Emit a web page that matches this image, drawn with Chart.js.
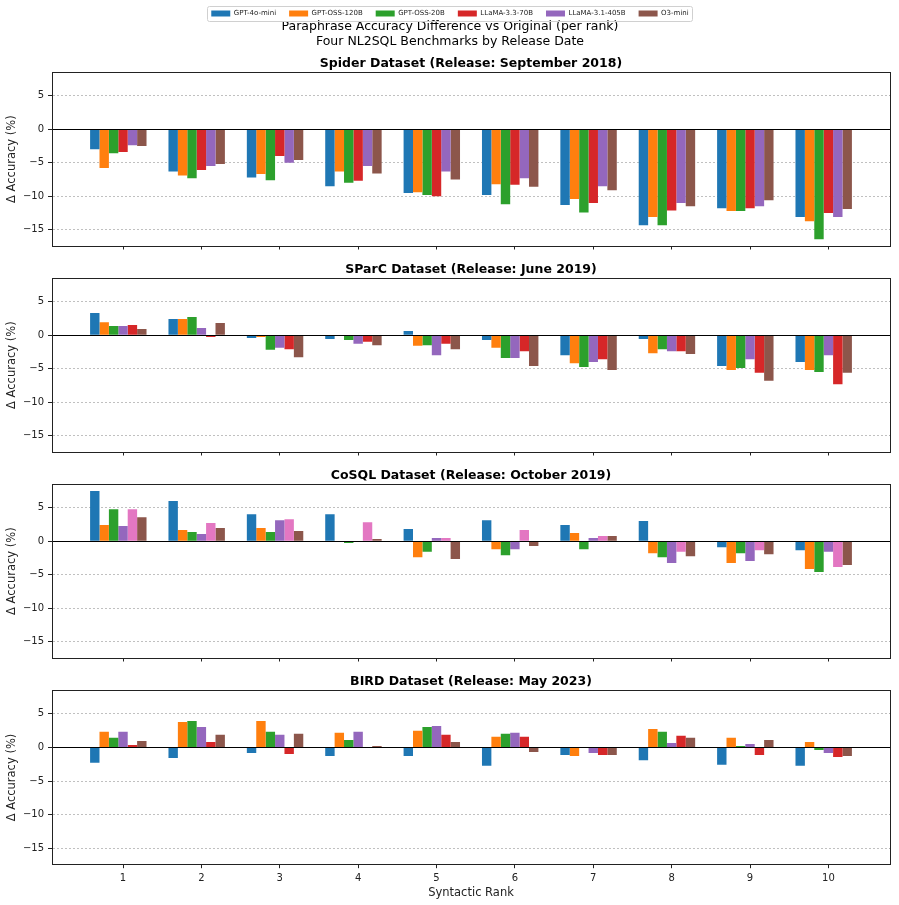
<!DOCTYPE html>
<html>
<head>
<meta charset="utf-8">
<script src="https://cdn.jsdelivr.net/npm/chart.js@4/dist/chart.umd.min.js"></script>
<style>
  html, body { margin: 0; padding: 0; background: #fff; }
  #fig { position: relative; width: 899px; height: 905px; overflow: hidden; background: #fff; }
  #fig canvas { position: absolute; left: 0; }
</style>
</head>
<body>
<div id="fig">
  <canvas id="c0" width="899" height="256" style="top:0px"></canvas>
  <canvas id="c1" width="899" height="216" style="top:246px"></canvas>
  <canvas id="c2" width="899" height="216" style="top:452px"></canvas>
  <canvas id="c3" width="899" height="247" style="top:658px"></canvas>
</div>
<script>
// Paraphrase accuracy delta per syntactic rank, four NL2SQL benchmarks.
// Bar order inside a group differs per panel (as in the original figure).

const ranks = [1, 2, 3, 4, 5, 6, 7, 8, 9, 10];
const yTicks = [-15, -10, -5, 0, 5];
const models = ["GPT-4o-mini", "GPT-OSS-120B", "GPT-OSS-20B", "LLaMA-3.3-70B", "LLaMA-3.1-405B", "O3-mini"];

const BLUE = "#1f77b4", ORANGE = "#ff7f0e", GREEN = "#2ca02c", RED = "#d62728",
      PURPLE = "#9467bd", BROWN = "#8c564b", PINK = "#e377c2";

// Spider: blue, orange, green, red, purple, brown
const spiderColors = [BLUE, ORANGE, GREEN, RED, PURPLE, BROWN];
const spiderNames = models;
const spiderVals = [
  [-3.0, -6.3, -7.2, -8.5, -9.5, -9.8, -11.3, -14.3, -11.8, -13.1],
  [-5.8, -6.9, -6.7, -6.3, -9.4, -8.2, -10.4, -13.1, -12.2, -13.7],
  [-3.6, -7.3, -7.6, -8.0, -9.8, -11.2, -12.4, -14.3, -12.2, -16.4],
  [-3.4, -6.1, -4.0, -7.7, -10.0, -8.3, -11.0, -12.1, -11.8, -12.5],
  [-2.4, -5.5, -5.0, -5.5, -6.3, -7.3, -8.5, -11.0, -11.5, -13.1],
  [-2.5, -5.2, -4.6, -6.6, -7.5, -8.6, -9.1, -11.5, -10.6, -11.9],
];

// SParC: blue, orange, green, purple, red, brown
const sparcColors = [BLUE, ORANGE, GREEN, PURPLE, RED, BROWN];
const sparcNames = ["GPT-4o-mini", "GPT-OSS-120B", "GPT-OSS-20B", "LLaMA-3.1-405B", "LLaMA-3.3-70B", "O3-mini"];
const sparcVals = [
  [3.3, 2.4, -0.45, -0.6, 0.6, -0.75, -3.0, -0.6, -4.6, -4.0],
  [1.9, 2.4, -0.3, -0.05, -1.6, -1.9, -4.2, -2.7, -5.2, -5.2],
  [1.35, 2.7, -2.2, -0.75, -1.5, -3.4, -4.75, -2.1, -4.9, -5.5],
  [1.35, 1.05, -1.9, -1.3, -3.0, -3.4, -4.0, -2.4, -3.6, -3.0],
  [1.5, -0.3, -2.1, -1.0, -1.3, -2.4, -3.6, -2.4, -5.6, -7.3],
  [0.9, 1.8, -3.3, -1.5, -2.1, -4.6, -5.2, -2.8, -6.8, -5.6],
];

// CoSQL: blue, orange, green, purple, pink, brown
const cosqlColors = [BLUE, ORANGE, GREEN, PURPLE, PINK, BROWN];
const cosqlNames = sparcNames;
const cosqlVals = [
  [7.45, 5.95, 4.0, 4.0, 1.8, 3.1, 2.4, 3.0, -0.9, -1.35],
  [2.4, 1.65, 1.95, 0, -2.4, -1.2, 1.2, -1.8, -3.25, -4.15],
  [4.75, 1.35, 1.35, -0.3, -1.6, -2.1, -1.2, -2.4, -1.8, -4.6],
  [2.25, 1.05, 3.1, 0, 0.45, -1.2, 0.45, -3.25, -2.95, -1.6],
  [4.75, 2.7, 3.25, 2.8, 0.45, 1.65, 0.75, -1.6, -1.35, -3.85],
  [3.55, 1.95, 1.5, 0.3, -2.65, -0.75, 0.75, -2.25, -1.95, -3.55],
];

// BIRD: blue, orange, green, purple, red, brown
const birdColors = sparcColors;
const birdNames = sparcNames;
const birdVals = [
  [-2.3, -1.6, -0.85, -1.3, -1.3, -2.75, -1.15, -1.9, -2.6, -2.75],
  [2.3, 3.75, 3.9, 2.15, 2.45, 1.55, -1.3, 2.7, 1.4, 0.8],
  [1.4, 3.9, 2.3, 1.1, 3.0, 2.0, -0.05, 2.3, 0.2, -0.4],
  [2.3, 3.0, 1.85, 2.3, 3.15, 2.15, -0.85, 0.65, 0.5, -0.85],
  [0.35, 0.8, -1.0, 0.05, 1.85, 1.55, -1.15, 1.7, -1.15, -1.45],
  [0.95, 1.85, 2.0, 0.2, 0.8, -0.7, -1.15, 1.4, 1.1, -1.3],
];

const panelTitles = [
  "Spider Dataset (Release: September 2018)",
  "SParC Dataset (Release: June 2019)",
  "CoSQL Dataset (Release: October 2019)",
  "BIRD Dataset (Release: May 2023)",
];

Chart.defaults.font.family = "'DejaVu Sans', sans-serif";
Chart.defaults.color = "#222";

const INK = "#222";

// solid black line at y = 0, drawn over the bars
const zeroLine = {
  id: "zeroLine",
  afterDatasetsDraw(chart) {
    const { ctx, chartArea: a, scales: { y } } = chart;
    const py = Math.round(y.getPixelForValue(0)) + 0.5;
    ctx.save();
    ctx.strokeStyle = "#000";
    ctx.lineWidth = 1.2;
    ctx.beginPath();
    ctx.moveTo(a.left, py);
    ctx.lineTo(a.right, py);
    ctx.stroke();
    ctx.restore();
  },
};

// full box around the axes (matplotlib spines)
const frame = {
  id: "frame",
  afterDraw(chart) {
    const { ctx, chartArea: a } = chart;
    ctx.save();
    ctx.strokeStyle = INK;
    ctx.lineWidth = 1;
    ctx.strokeRect(Math.round(a.left) + 0.5, Math.round(a.top) + 0.5,
      Math.round(a.right - a.left), Math.round(a.bottom - a.top));
    ctx.restore();
  },
};

// light rounded frame around the legend items
const legendFrame = {
  id: "legendFrame",
  afterDraw(chart) {
    const boxes = chart.legend && chart.legend.legendHitBoxes;
    if (!boxes || !boxes.length) return;
    const l = Math.min(...boxes.map((b) => b.left)) - 4;
    const r = Math.max(...boxes.map((b) => b.left + b.width)) + 4;
    const t = Math.min(...boxes.map((b) => b.top)) - 4;
    const btm = Math.max(...boxes.map((b) => b.top + b.height)) + 4;
    const { ctx } = chart;
    ctx.save();
    ctx.strokeStyle = "#d0d0d0";
    ctx.lineWidth = 1;
    ctx.beginPath();
    ctx.roundRect(Math.round(l) + 0.5, Math.round(t) + 0.5, Math.round(r - l), Math.round(btm - t), 2);
    ctx.stroke();
    ctx.restore();
  },
};

function datasets(vals, colors, names) {
  const out = vals.map((v, k) => ({
    label: names[k],
    data: ranks.map((r, i) => ({ x: r, y: v[i] })),
    backgroundColor: colors[k],
    borderWidth: 0,
    categoryPercentage: 0.84,
    barPercentage: 1,
  }));
  // empty 7th slot so the six bars sit left of the tick, as in the original
  out.push({ label: "", data: [], categoryPercentage: 0.84, barPercentage: 1 });
  return out;
}

function panel(id, idx, vals, colors, names) {
  const first = idx === 0;
  const last = idx === 3;
  const canvasH = document.getElementById(id).height;
  const areaBottom = first ? 246.7 : 206.7;

  new Chart(document.getElementById(id), {
    type: "bar",
    data: { datasets: datasets(vals, colors, names) },
    options: {
      responsive: false,
      animation: false,
      devicePixelRatio: 1,
      layout: { padding: { top: first ? -3 : 0, left: 10, right: 9, bottom: 0 } },
      plugins: {
        legend: {
          display: first,
          weight: 3000,
          maxHeight: 20,
          labels: {
            font: { size: 7 }, color: INK, boxWidth: 19, boxHeight: 6, padding: 13,
            filter: (item) => item.text !== "",
          },
        },
        title: {
          display: first,
          text: ["Paraphrase Accuracy Difference vs Original (per rank)", "Four NL2SQL Benchmarks by Release Date"],
          font: { size: 12.5, weight: "normal" },
          color: "#000",
          padding: { top: 2, bottom: 0 },
        },
        subtitle: {
          display: true,
          text: panelTitles[idx],
          font: { size: 12.5, weight: "bold" },
          color: "#000",
          fullSize: false,
          padding: first ? { top: 7.5, bottom: 0.8 } : { top: 16.5, bottom: 0.8 },
        },
        tooltip: { enabled: false },
      },
      scales: {
        x: {
          type: "linear",
          min: 0.094,
          max: 10.786,
          offset: false,
          afterBuildTicks: (s) => { s.ticks = ranks.map((v) => ({ value: v })); },
          afterFit: (s) => { s.height = canvasH - areaBottom; },
          grid: { offset: false, drawOnChartArea: false, drawTicks: true, tickLength: 3.5, tickColor: INK, tickWidth: 1 },
          border: { color: INK, width: 1 },
          ticks: { display: last, autoSkip: false, maxRotation: 0, padding: 4, color: INK, font: { size: 10 } },
          title: {
            display: last, text: "Syntactic Rank", color: INK,
            font: { size: 11.5 }, padding: { top: 0, bottom: 5 },
          },
        },
        y: {
          min: -17.4,
          max: 8.45,
          afterBuildTicks: (s) => { s.ticks = yTicks.map((v) => ({ value: v })); },
          afterFit: (s) => { s.width = 42; },
          grid: { color: "#b0b0b0", lineWidth: 0.8, drawTicks: true, tickLength: 4, tickColor: INK, tickWidth: 1 },
          border: { color: INK, width: 1, dash: [2, 2] },
          ticks: {
            color: INK, font: { size: 10 }, padding: 4,
            callback: (v) => (v < 0 ? "\u2212" + Math.abs(v) : String(v)),
          },
          title: {
            display: true, text: "Δ Accuracy (%)", color: INK,
            font: { size: 11.5 }, padding: { top: -5, bottom: 0 },
          },
        },
      },
    },
    plugins: first ? [zeroLine, frame, legendFrame] : [zeroLine, frame],
  });
}

panel("c0", 0, spiderVals, spiderColors, spiderNames);
panel("c1", 1, sparcVals, sparcColors, sparcNames);
panel("c2", 2, cosqlVals, cosqlColors, cosqlNames);
panel("c3", 3, birdVals, birdColors, birdNames);
</script>
</body>
</html>
